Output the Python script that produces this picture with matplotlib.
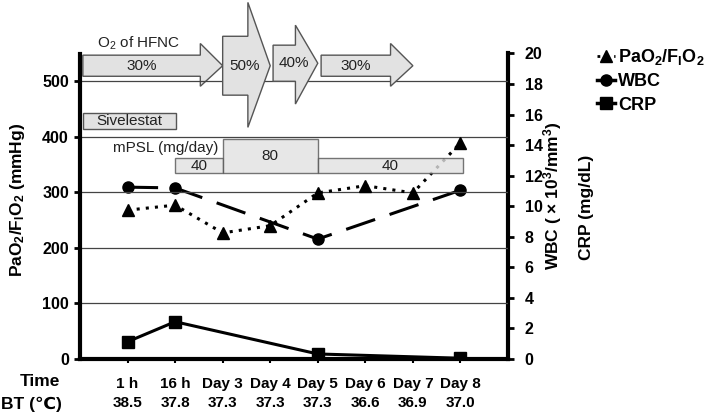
import numpy as np
import matplotlib
matplotlib.use("Agg")
import matplotlib.pyplot as plt
from matplotlib.patches import Polygon, Rectangle
from matplotlib.lines import Line2D
from matplotlib.transforms import blended_transform_factory

plt.rcParams["font.family"] = ["Liberation Sans", "DejaVu Sans"]
plt.rcParams["font.weight"] = "bold"
plt.rcParams["mathtext.default"] = "regular"

# data
times = ["1 h", "16 h", "Day 3", "Day 4", "Day 5", "Day 6", "Day 7", "Day 8"]
bt = ["38.5", "37.8", "37.3", "37.3", "37.3", "36.6", "36.9", "37.0"]
pf_ratio = [268, 277, 227, 240, 299, 312, 299, 389]
wbc = [11.25, 11.2, np.nan, np.nan, 7.85, np.nan, np.nan, 11.05]
crp = [1.13, 2.44, np.nan, np.nan, 0.33, np.nan, np.nan, 0.05]

# treatment annotations (x in time index, y in left-axis units)
hfnc_labels = ["30%", "50%", "40%", "30%"]
hfnc_start = [-0.94, 2.0, 3.06, 4.07]
hfnc_end = [2.0, 3.0, 4.0, 6.0]
hfnc_body = [(509, 547), (475, 581), (500, 565), (509, 547)]
hfnc_head = [(491, 568), (417, 642), (459, 601), (491, 568)]

mpsl_labels = ["40", "80", "40"]
mpsl_start = [1.0, 2.0, 4.0]
mpsl_end = [2.0, 4.0, 7.05]
mpsl_top = [361, 396, 361]

fig = plt.figure(figsize=(7.09, 4.13), dpi=100)
ax = fig.add_axes([80 / 709, 1 - 359 / 413, 428 / 709, 305.5 / 413])
ax2 = ax.twinx()

x = np.arange(len(times))
fill = "#e2e2e2"
edge = "#555555"
txt = "#222222"
fs = 11

ax.set_xlim(-1, 8)
ax.set_ylim(0, 550)
ax2.set_ylim(0, 20)

for yv in [100, 200, 300, 400, 500]:
    ax.axhline(yv, color="#444444", lw=0.9, zorder=1)

# HFNC arrows
for i, lab in enumerate(hfnc_labels):
    x0, x1 = hfnc_start[i], hfnc_end[i]
    hx = x1 - 0.47
    b0, b1 = hfnc_body[i]
    h0, h1 = hfnc_head[i]
    ym = (b0 + b1) / 2
    pts = [(x0, b0), (hx, b0), (hx, h0), (x1, ym), (hx, h1), (hx, b1), (x0, b1)]
    z = 0.5 if i == 0 else 3
    ax.add_patch(Polygon(pts, closed=True, facecolor=fill, edgecolor=edge, lw=1,
                         clip_on=False, zorder=z))
    cx = (x0 + hx) / 2 if i in (0, 3) else (x0 + x1) / 2 - 0.04
    ax.text(cx, ym, lab, ha="center", va="center", fontsize=fs, fontweight="normal",
            color=txt, zorder=4, clip_on=False)
ax.text(-0.65, 568, "O$_2$ of HFNC", ha="left", va="center", fontsize=fs,
        fontweight="normal", color=txt)

# Sivelestat
ax.add_patch(Rectangle((-0.94, 414), 1.96, 28, facecolor=fill, edgecolor=edge, lw=1, zorder=3))
ax.text(-0.65, 428, "Sivelestat", ha="left", va="center", fontsize=fs,
        fontweight="normal", color=txt, zorder=4)

# mPSL
ax.text(-0.3, 380, "mPSL (mg/day)", ha="left", va="center", fontsize=fs,
        fontweight="normal", color=txt, zorder=4)
for i, lab in enumerate(mpsl_labels):
    ax.add_patch(Rectangle((mpsl_start[i], 334), mpsl_end[i] - mpsl_start[i], mpsl_top[i] - 334,
                           facecolor=fill, edgecolor=edge, lw=1, alpha=0.8, zorder=6))
    ax.text((mpsl_start[i] + mpsl_end[i]) / 2, (334 + mpsl_top[i]) / 2, lab, ha="center",
            va="center", fontsize=fs, fontweight="normal", color=txt, zorder=7)

# data series
ax.plot(x, pf_ratio, color="black", lw=2.2, linestyle=(0, (1, 2)), marker="^", ms=9, zorder=5)
m = ~np.isnan(wbc)
ax2.plot(x[m], np.array(wbc)[m], color="black", lw=2.2, dashes=(10, 5), marker="o", ms=8, zorder=5)
m = ~np.isnan(crp)
ax2.plot(x[m], np.array(crp)[m], color="black", lw=2.2, marker="s", ms=8, zorder=5)
ax2.set_zorder(ax.get_zorder() - 1)
ax.patch.set_visible(False)

# spines and ticks
for a in (ax, ax2):
    a.spines["top"].set_visible(False)
ax.spines["left"].set_linewidth(3)
ax.spines["bottom"].set_linewidth(3)
ax2.spines["right"].set_linewidth(3)
ax2.spines["left"].set_visible(False)
ax2.spines["bottom"].set_visible(False)
ax.set_yticks([0, 100, 200, 300, 400, 500])
ax2.set_yticks(range(0, 21, 2))
ax.tick_params(axis="y", length=4, width=2, labelsize=11.5, pad=4)
ax2.tick_params(axis="y", length=4, width=2, labelsize=11.5, pad=8)
ax.set_xticks(x)
ax.set_xticklabels(times, fontsize=fs)
ax.tick_params(axis="x", length=3, width=1.5, pad=10)

trans = blended_transform_factory(ax.transData, fig.transFigure)
for xi, t in zip(x, bt):
    ax.text(xi, 1 - 403 / 413, t, transform=trans, ha="center", va="center", fontsize=fs)
fig.text(40 / 709, 1 - 381 / 413, "Time", ha="center", va="center", fontsize=12.5)
fig.text(1 / 709, 1 - 404 / 413, "BT (\u2103)", ha="left", va="center", fontsize=12.5)

fig.text(18 / 709, 1 - 200 / 413, "PaO$_2$/F$_I$O$_2$ (mmHg)", rotation=90,
         ha="center", va="center", fontsize=12.5)
fig.text(553 / 709, 1 - 196 / 413, "WBC ( \u00d7 10$^3$/mm$^3$)", rotation=90,
         ha="center", va="center", fontsize=12.5)
fig.text(586 / 709, 1 - 207 / 413, "CRP (mg/dL)", rotation=90,
         ha="center", va="center", fontsize=12.5)

handles = [
    Line2D([], [], color="black", lw=2, linestyle=(0, (1, 2)), marker="^", ms=8),
    Line2D([], [], color="black", lw=2.5, marker="o", ms=8),
    Line2D([], [], color="black", lw=2.5, marker="s", ms=8),
]
fig.legend(handles, ["PaO$_2$/F$_I$O$_2$", "WBC", "CRP"], loc="upper left",
           bbox_to_anchor=(588 / 709, 1 - 38 / 413), frameon=False, fontsize=13,
           handlelength=1.0, handletextpad=0.15, labelspacing=0.35, borderpad=0)

fig.savefig("out.png", dpi=100)
